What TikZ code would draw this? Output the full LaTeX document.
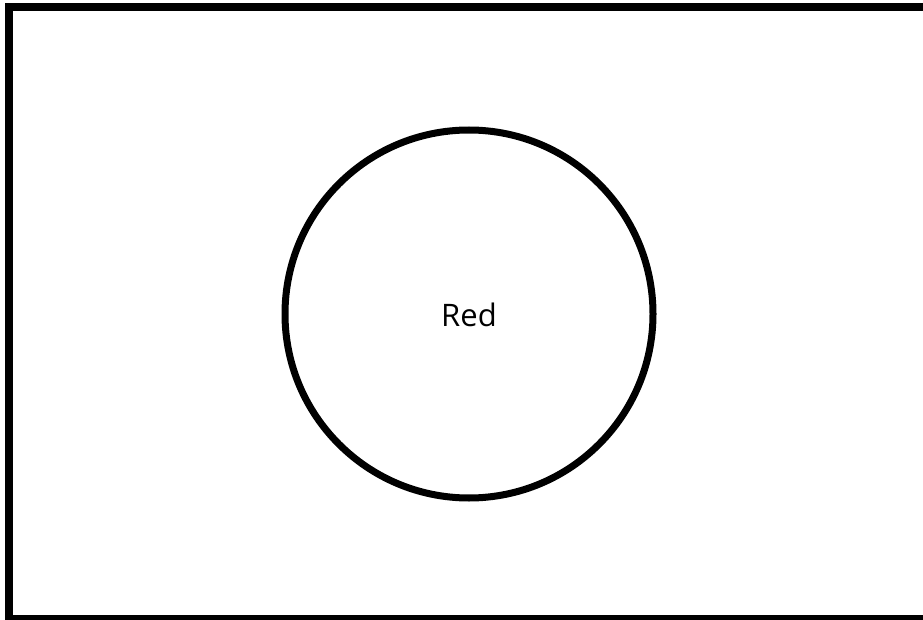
\documentclass[tikz,border=0pt]{standalone}
\usepackage{fontspec}
\setmainfont{Open Sans}
\begin{document}
\begin{tikzpicture}[x=1pt,y=-1pt,
  frame/.style={draw=black,line width=8pt},
  setcircle/.style={circle,draw=black,line width=7pt,minimum size=368pt,inner sep=0pt},
  lbl/.style={font=\fontsize{31}{36}\selectfont}]
\useasboundingbox (0,0) rectangle (923,620);
\clip (0,0) rectangle (923,620);
\draw[frame] (9,7.5) rectangle (940,619);
\node[setcircle] (red) at (469,314) {};
\node[lbl] (redlabel) at (469,315) {Red};
\end{tikzpicture}
\end{document}
